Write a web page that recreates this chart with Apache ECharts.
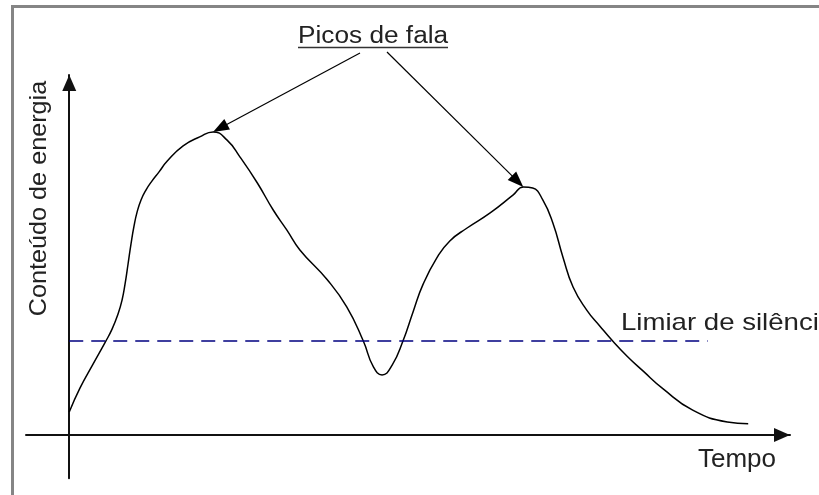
<!DOCTYPE html>
<html><head><meta charset="utf-8">
<script src="https://cdn.jsdelivr.net/npm/echarts@6/dist/echarts.min.js"></script>
<style>html,body{margin:0;padding:0;background:#fff;overflow:hidden}#c{width:819px;height:495px}</style>
</head><body><div id="c"></div>
<script>
// Time (arbitrary units) and energy content (arbitrary units)
const tempo = [0, 1.5, 3.3, 5.0, 5.94, 6.77, 7.33, 7.74, 8.16, 8.57, 8.99, 9.41, 9.96, 10.66, 11.49, 12.46, 13.6, 15.8, 18.1, 19.95, 21.9, 23.7, 26.1, 28.3, 30.2, 32.0, 35.8, 38.5, 40.8, 42.2, 43.4, 44.8, 46.3, 47.7, 49.1, 51.0, 52.8, 55.2, 58.4, 61.6, 63.0, 64.3, 65.7, 67.1, 68.5, 69.9, 71.8, 73.6, 75.4, 77.4, 79.6, 82.4, 86.5, 91.3, 94.2];
const energia = [6.4, 13.1, 19.7, 25.8, 29.4, 33.6, 37.5, 41.9, 47.5, 53.1, 58.1, 61.9, 65.3, 68.1, 70.6, 73.1, 76.1, 80.3, 82.8, 84.2, 81.9, 77.2, 70.0, 62.5, 56.9, 51.4, 43.1, 35.6, 26.1, 18.9, 16.7, 19.4, 26.1, 34.2, 41.9, 49.2, 53.9, 57.5, 61.7, 66.7, 68.9, 68.6, 65.3, 58.9, 49.4, 41.1, 34.7, 30.3, 26.1, 21.9, 17.8, 12.8, 6.9, 3.6, 3.1];
const limiar = 26.1;          // silence threshold level
const limiarInicio = 0;
const limiarFim = 88.6;
const xMin = -6, xMax = 100, yMin = -12, yMax = 100;

const tituloPicos = 'Picos de fala';
const rotuloLimiar = 'Limiar de silêncio';
const nomeX = 'Tempo';
const nomeY = 'Conteúdo de energia';

const FONT = "'Liberation Sans', Arial, sans-serif";
const chart = echarts.init(document.getElementById('c'), null, {renderer: 'canvas'});

const axisLineCommon = {
  show: true,
  onZero: true,
  symbol: ['none', 'triangle'],
  symbolSize: [14, 16],
  symbolOffset: [0, -8],
  lineStyle: {color: '#111', width: 2}
};

chart.setOption({
  animation: false,
  backgroundColor: '#ffffff',
  grid: {left: 26, right: 29, top: 75, bottom: 16.8, containLabel: false},
  xAxis: {
    type: 'value', min: xMin, max: xMax,
    axisLine: axisLineCommon,
    axisTick: {show: false}, axisLabel: {show: false}, splitLine: {show: false}
  },
  yAxis: {
    type: 'value', min: yMin, max: yMax,
    axisLine: axisLineCommon,
    axisTick: {show: false}, axisLabel: {show: false}, splitLine: {show: false}
  },
  series: [{
    type: 'line',
    data: tempo.map((t, i) => [t, energia[i]]),
    smooth: 0.5,
    showSymbol: false,
    silent: true,
    lineStyle: {color: '#000', width: 1.5},
    z: 3,
    markLine: {
      silent: true,
      symbol: ['none', 'none'],
      label: {show: false},
      lineStyle: {color: '#000080', width: 1.5, type: [14, 8]},
      data: [[{coord: [limiarInicio, limiar]}, {coord: [limiarFim, limiar]}]]
    }
  }]
});

// find speech peaks (local maxima) through the library's scales
const peaks = [];
for (let i = 1; i < energia.length - 1; i++) {
  if (energia[i] > energia[i - 1] && energia[i] >= energia[i + 1]) peaks.push(i);
}
const peakPx = peaks.map(i => chart.convertToPixel({gridIndex: 0}, [tempo[i], energia[i]]));

const starts = [[360, 53], [387, 52]];
const graphics = [];

// outer frame (only top and left edges are visible)
graphics.push({type: 'line', shape: {x1: 11, y1: 6.5, x2: 819, y2: 6.5},
  style: {stroke: '#858585', lineWidth: 3}, silent: true, z: 0});
graphics.push({type: 'line', shape: {x1: 12.5, y1: 5, x2: 12.5, y2: 495},
  style: {stroke: '#858585', lineWidth: 3}, silent: true, z: 0});

peakPx.forEach((tip, k) => {
  const s = starts[k] || starts[starts.length - 1];
  const dx = tip[0] - s[0], dy = tip[1] - s[1];
  const len = Math.hypot(dx, dy);
  const ux = dx / len, uy = dy / len;
  const L = 16, W = 6;
  const bx = tip[0] - ux * L, by = tip[1] - uy * L;
  graphics.push({type: 'line', shape: {x1: s[0], y1: s[1], x2: bx + ux * 2, y2: by + uy * 2},
    style: {stroke: '#000', lineWidth: 1.2}, silent: true, z: 10});
  graphics.push({type: 'polygon', shape: {points: [[tip[0], tip[1]], [bx - uy * W, by + ux * W], [bx + uy * W, by - ux * W]]},
    style: {fill: '#000'}, silent: true, z: 10});
});

// texts
graphics.push({type: 'text', x: 298, y: 36.5, scaleX: 1.14, silent: true, z: 10,
  style: {text: tituloPicos, x: 0, y: 0, align: 'left', verticalAlign: 'middle', font: '23px ' + FONT, fill: '#222'}});
graphics.push({type: 'line', shape: {x1: 298, y1: 47.5, x2: 448, y2: 47.5},
  style: {stroke: '#333', lineWidth: 1.5}, silent: true, z: 10});
graphics.push({type: 'text', x: 621, y: 323.5, scaleX: 1.15, silent: true, z: 10,
  style: {text: rotuloLimiar, x: 0, y: 0, align: 'left', verticalAlign: 'middle', font: '24px ' + FONT, fill: '#222'}});
graphics.push({type: 'text', x: 698, y: 460, silent: true, z: 10,
  style: {text: nomeX, x: 0, y: 0, align: 'left', verticalAlign: 'middle', font: '26px ' + FONT, fill: '#222'}});
graphics.push({type: 'text', x: 39.5, y: 198.5, rotation: Math.PI / 2, scaleX: 1.05, silent: true, z: 10,
  style: {text: nomeY, x: 0, y: 0, align: 'center', verticalAlign: 'middle', font: '24px ' + FONT, fill: '#222'}});

chart.setOption({graphic: graphics});
</script>
</body></html>
